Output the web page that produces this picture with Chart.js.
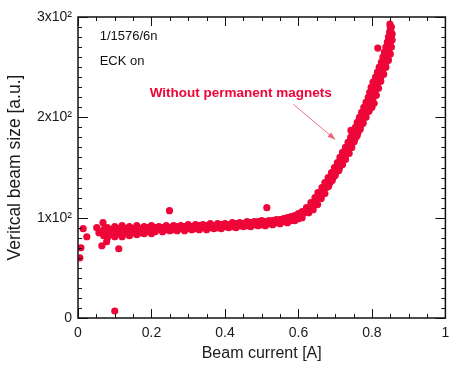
<!DOCTYPE html>
<html>
<head>
<meta charset="utf-8">
<script src="https://cdn.jsdelivr.net/npm/chart.js@4"></script>
<style>
  html, body { margin: 0; padding: 0; background: #fff; }
</style>
</head>
<body>
<canvas id="beamChart" width="449" height="365"></canvas>
<script>
// ---- data ----
const xTicks = [0, 0.2, 0.4, 0.6, 0.8, 1];
const yTicks = [0, 100, 200, 300];

// scattered points at low current
const outliers = [
  [0.005, 60], [0.008, 70], [0.014, 89], [0.024, 81], [0.051, 90], [0.057, 85],
  [0.068, 95], [0.065, 72], [0.078, 76], [0.111, 69], [0.100, 7], [0.249, 107],
  [0.514, 110], [0.743, 187], [0.816, 269]
];

// flat part of the band
const flatBand = [
  [0.07, 82], [0.07, 88], [0.08, 85], [0.08, 90], [0.08, 80], [0.09, 83], [0.09, 88],
  [0.10, 86], [0.10, 91], [0.10, 81], [0.11, 84], [0.11, 89], [0.12, 86], [0.12, 92],
  [0.12, 81], [0.13, 84], [0.13, 89], [0.14, 87], [0.14, 91], [0.14, 82], [0.15, 85],
  [0.15, 89], [0.16, 87], [0.16, 92], [0.16, 83], [0.17, 85], [0.17, 89], [0.18, 87],
  [0.18, 91], [0.18, 84], [0.19, 86], [0.19, 90], [0.20, 88], [0.20, 92], [0.20, 84],
  [0.21, 86], [0.21, 90], [0.22, 88], [0.22, 91], [0.23, 86], [0.23, 90], [0.24, 88],
  [0.24, 92], [0.25, 87], [0.25, 90], [0.26, 88], [0.26, 92], [0.27, 87], [0.27, 91],
  [0.28, 89], [0.28, 92], [0.29, 87], [0.29, 91], [0.30, 89], [0.30, 93], [0.31, 88],
  [0.31, 91], [0.32, 89], [0.32, 93], [0.33, 88], [0.33, 92], [0.34, 90], [0.34, 93],
  [0.35, 88], [0.35, 92], [0.36, 90], [0.36, 94], [0.37, 89], [0.37, 92], [0.38, 90],
  [0.38, 94], [0.39, 89], [0.39, 93], [0.40, 91], [0.40, 94], [0.41, 90], [0.41, 93],
  [0.42, 91], [0.42, 95], [0.43, 90], [0.43, 94], [0.44, 92], [0.44, 95], [0.45, 91],
  [0.45, 94], [0.46, 92], [0.46, 96], [0.47, 91], [0.47, 95], [0.48, 93], [0.48, 96],
  [0.49, 92], [0.49, 96], [0.50, 93], [0.50, 97], [0.51, 92], [0.51, 96], [0.52, 94],
  [0.52, 97], [0.53, 93], [0.53, 97], [0.54, 95], [0.54, 98], [0.55, 94], [0.55, 98],
  [0.56, 96], [0.56, 99], [0.57, 95], [0.57, 100], [0.58, 97], [0.58, 101], [0.59, 97],
  [0.59, 102], [0.60, 99], [0.60, 104], [0.61, 100], [0.61, 106]
];

// steep rise above ~0.6 A
const steepBand = [
  [0.615, 105], [0.628, 105], [0.622, 110], [0.636, 110], [0.634, 115], [0.646, 115],
  [0.645, 120], [0.657, 120], [0.653, 125], [0.667, 125], [0.664, 130], [0.676, 130],
  [0.672, 135], [0.686, 135], [0.681, 140], [0.694, 140], [0.690, 145], [0.702, 145],
  [0.698, 150], [0.712, 150], [0.706, 155], [0.718, 155], [0.713, 160], [0.727, 160],
  [0.720, 165], [0.734, 165], [0.728, 170], [0.742, 170], [0.735, 175], [0.748, 175],
  [0.742, 180], [0.756, 180], [0.748, 185], [0.762, 185], [0.755, 190], [0.768, 190],
  [0.760, 195], [0.775, 195], [0.766, 200], [0.780, 200], [0.772, 205], [0.786, 205],
  [0.778, 210], [0.792, 210], [0.800, 210], [0.784, 215], [0.798, 215], [0.790, 220],
  [0.804, 220], [0.794, 225], [0.808, 225], [0.798, 230], [0.812, 230], [0.803, 235],
  [0.818, 235], [0.810, 240], [0.824, 240], [0.815, 245], [0.828, 245], [0.820, 250],
  [0.834, 250], [0.826, 255], [0.838, 255], [0.830, 260], [0.842, 260], [0.834, 265],
  [0.846, 265], [0.838, 270], [0.848, 270], [0.842, 275], [0.850, 275], [0.845, 280],
  [0.852, 280], [0.848, 285], [0.852, 285], [0.850, 290], [0.849, 293]
];

// extra spread on the outer side of the rise
const steepSpread = [
  [0.640, 108], [0.652, 113], [0.662, 119], [0.672, 124], [0.682, 131], [0.692, 137],
  [0.700, 142], [0.710, 147], [0.720, 153], [0.728, 158], [0.738, 164], [0.745, 170],
  [0.752, 176], [0.760, 182], [0.768, 188], [0.776, 194], [0.784, 200], [0.792, 206],
  [0.806, 214], [0.812, 222], [0.818, 229], [0.824, 236], [0.832, 243], [0.838, 250],
  [0.845, 257], [0.850, 263], [0.853, 270], [0.855, 277], [0.855, 283], [0.853, 290]
];

const allPoints = outliers.concat(flatBand, steepBand, steepSpread).map(p => ({ x: p[0], y: p[1] }));

const RED = '#ee0638';
const FONT = '"Liberation Sans", Arial, sans-serif';

// frame, inside ticks (all four sides) and annotations
const framePlugin = {
  id: 'frame',
  afterDraw(chart) {
    const { ctx, chartArea: a, scales: { x, y } } = chart;
    ctx.save();
    ctx.strokeStyle = '#111';
    ctx.lineWidth = 1.5;
    ctx.strokeRect(a.left, a.top, a.right - a.left, a.bottom - a.top);

    ctx.lineWidth = 1;
    ctx.beginPath();
    for (let i = 0; i <= 20; i++) {
      const px = Math.round(x.getPixelForValue(i * 0.05)) + 0.5;
      const len = i % 4 === 0 ? 9 : 4;
      ctx.moveTo(px, a.bottom); ctx.lineTo(px, a.bottom - len);
      ctx.moveTo(px, a.top); ctx.lineTo(px, a.top + len);
    }
    for (let i = 0; i <= 30; i++) {
      const py = Math.round(y.getPixelForValue(i * 10)) + 0.5;
      const len = i % 10 === 0 ? 10 : 4;
      ctx.moveTo(a.left, py); ctx.lineTo(a.left + len, py);
      ctx.moveTo(a.right, py); ctx.lineTo(a.right - len, py);
    }
    ctx.stroke();

    // notes
    ctx.fillStyle = '#111';
    ctx.font = '13px ' + FONT;
    ctx.textBaseline = 'middle';
    ctx.fillText('1/1576/6n', x.getPixelForValue(0.059), y.getPixelForValue(281));
    ctx.fillText('ECK on', x.getPixelForValue(0.059), y.getPixelForValue(256));

    ctx.fillStyle = RED;
    ctx.font = 'bold 13.5px ' + FONT;
    ctx.fillText('Without permanent magnets', x.getPixelForValue(0.195), y.getPixelForValue(224));

    // arrow
    const x1 = x.getPixelForValue(0.586), y1 = y.getPixelForValue(213);
    const x2 = x.getPixelForValue(0.70), y2 = y.getPixelForValue(178);
    ctx.strokeStyle = '#f0708a';
    ctx.fillStyle = '#f0607a';
    ctx.lineWidth = 1;
    ctx.beginPath(); ctx.moveTo(x1, y1); ctx.lineTo(x2, y2); ctx.stroke();
    const ang = Math.atan2(y2 - y1, x2 - x1);
    ctx.beginPath();
    ctx.moveTo(x2, y2);
    ctx.lineTo(x2 - 8 * Math.cos(ang - 0.35), y2 - 8 * Math.sin(ang - 0.35));
    ctx.lineTo(x2 - 8 * Math.cos(ang + 0.35), y2 - 8 * Math.sin(ang + 0.35));
    ctx.closePath(); ctx.fill();
    ctx.restore();
  }
};

new Chart(document.getElementById('beamChart'), {
  type: 'scatter',
  data: {
    datasets: [{
      data: allPoints,
      backgroundColor: RED,
      borderWidth: 0,
      pointRadius: 3.6,
      pointHoverRadius: 3.6
    }]
  },
  options: {
    responsive: false,
    animation: false,
    layout: { padding: { top: 17, right: 1, left: 0, bottom: 0 } },
    plugins: { legend: { display: false }, tooltip: { enabled: false } },
    scales: {
      x: {
        type: 'linear', min: 0, max: 1,
        afterBuildTicks: s => { s.ticks = xTicks.map(v => ({ value: v })); },
        afterFit: s => { s.height = 47; s.paddingRight = 0; s.paddingLeft = 0; },
        grid: { display: false, drawTicks: false },
        border: { display: false },
        ticks: {
          padding: 7, color: '#1a1a1a', font: { family: FONT, size: 14 },
          maxRotation: 0, autoSkip: false,
          callback: v => (v === 0 || v === 1) ? String(v) : v.toFixed(1)
        },
        title: { display: true, text: 'Beam current [A]', color: '#1a1a1a', font: { family: FONT, size: 16 }, padding: { top: 0, bottom: 2 } }
      },
      y: {
        type: 'linear', min: 0, max: 300,
        afterBuildTicks: s => { s.ticks = yTicks.map(v => ({ value: v })); },
        afterFit: s => { s.width = 78; },
        grid: { display: false, drawTicks: false },
        border: { display: false },
        ticks: {
          padding: 6, color: '#1a1a1a', font: { family: FONT, size: 14 },
          autoSkip: false,
          callback: v => v === 0 ? '0' : (v / 100) + 'x10²'
        },
        title: { display: true, text: 'Veritcal beam size [a.u.]', color: '#1a1a1a', font: { family: FONT, size: 17.5 }, padding: { top: 5, bottom: 0 } }
      }
    }
  },
  plugins: [framePlugin]
});
</script>
</body>
</html>
